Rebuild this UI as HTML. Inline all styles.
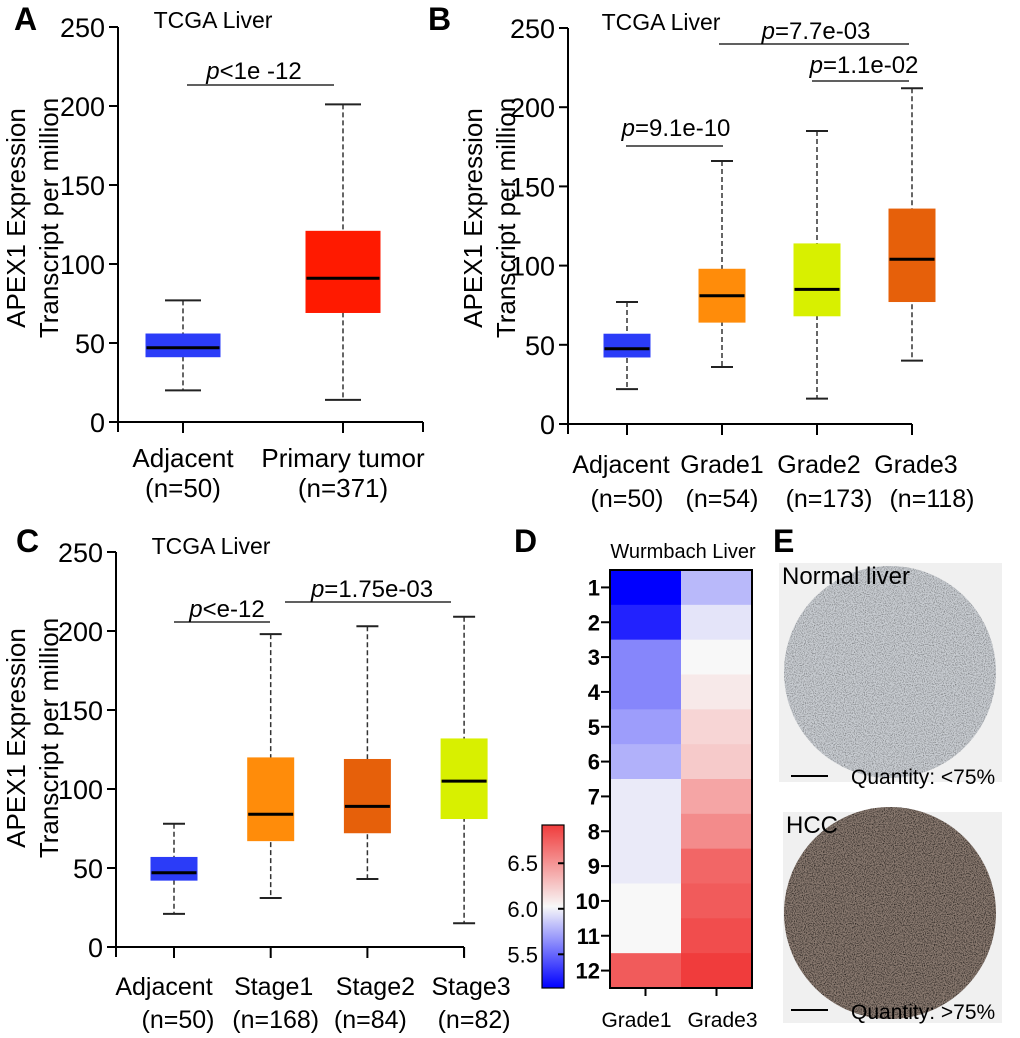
<!DOCTYPE html>
<html><head><meta charset="utf-8"><style>
html,body{margin:0;padding:0;background:#fff;}
svg{display:block;font-family:"Liberation Sans",Arial,sans-serif;}
</style></head><body>
<svg id="fig" width="1020" height="1038" viewBox="0 0 1020 1038" xmlns="http://www.w3.org/2000/svg">
<defs>
<filter id="speck" x="0" y="0" width="100%" height="100%">
<feTurbulence type="fractalNoise" baseFrequency="0.9" numOctaves="2" seed="3" result="n"/>
<feColorMatrix in="n" type="matrix" values="0 0 0 0 0  0 0 0 0 0  0 0 0 0 0  0 0 0 -2.2 1.25" result="a"/>
<feComposite in="a" in2="SourceGraphic" operator="in"/>
</filter>
<linearGradient id="cbar" x1="0" y1="0" x2="0" y2="1">
<stop offset="0" stop-color="#f03c3c"/>
<stop offset="0.5" stop-color="#f8f8f8"/>
<stop offset="1" stop-color="#0000ff"/>
</linearGradient>
<clipPath id="c1"><circle cx="890" cy="672" r="106"/></clipPath>
<clipPath id="c2"><circle cx="890" cy="913" r="106"/></clipPath>
</defs>
<g id="layer"></g>
<g>
<rect x="779" y="563" width="223" height="219" fill="#f0f0f0"/>
<circle cx="890" cy="672" r="106" fill="#c9cdd2"/>
<rect clip-path="url(#c1)" x="784" y="566" width="212" height="212" fill="#4a4c50" filter="url(#speck)" opacity="0.45"/>
<rect x="783" y="812" width="219" height="211" fill="#f0f0f0"/>
<circle cx="890" cy="913" r="106" fill="#8a7a70"/>
<rect clip-path="url(#c2)" x="784" y="807" width="212" height="212" fill="#3a2a22" filter="url(#speck)" opacity="0.9"/>
<text x="782" y="584" font-size="24">Normal liver</text>
<text x="786" y="833" font-size="24">HCC</text>
<line x1="791" y1="776" x2="828" y2="776" stroke="#000" stroke-width="2"/>
<text x="851" y="784" font-size="21">Quantity: &lt;75%</text>
<line x1="791" y1="1010" x2="828" y2="1010" stroke="#000" stroke-width="2"/>
<text x="851" y="1019" font-size="21">Quantity: &gt;75%</text>
</g>
</svg>
<script>
// ---- Data ----
const catsA=["Adjacent","Primary tumor"], nA=["(n=50)","(n=371)"];
const minA=[20,14], q1A=[41,69], medA=[47,91], q3A=[56,121], maxA=[77,201];
const colA=["#2b3cf8","#ff1a00"];
const catsB=["Adjacent","Grade1","Grade2","Grade3"], nB=["(n=50)","(n=54)","(n=173)","(n=118)"];
const minB=[22,36,16,40], q1B=[42,64,68,77], medB=[47.5,81,85,104], q3B=[57,98,114,136], maxB=[77,166,185,212];
const colB=["#2b3cf8","#ff8c0a","#d8f000","#e6600a"];
const catsC=["Adjacent","Stage1","Stage2","Stage3"], nC=["(n=50)","(n=168)","(n=84)","(n=82)"];
const minC=[21,31,43,15], q1C=[42,67,72,81], medC=[47,84,89,105], q3C=[57,120,119,132], maxC=[78,198,203,209];
const colC=["#2b3cf8","#ff8c0a","#e6600a","#d8f000"];
const yTicks=[0,50,100,150,200,250];
const heatRows=["1","2","3","4","5","6","7","8","9","10","11","12"];
const heatCols=["Grade1","Grade3"];
const heatG1=[5.13,5.25,5.6,5.6,5.68,5.75,5.95,5.95,5.95,6.0,6.0,6.75];
const heatG3=[5.78,5.93,6.0,6.07,6.17,6.22,6.4,6.52,6.7,6.75,6.82,6.9];
const cbTicks=[5.5,6.0,6.5];

const NS="http://www.w3.org/2000/svg";
const root=document.getElementById('layer');
function el(tag,attrs,parent,txt){const e=document.createElementNS(NS,tag);for(const k in attrs)e.setAttribute(k,attrs[k]);if(txt!==undefined)e.textContent=txt;(parent||root).appendChild(e);return e;}

function boxPanel(cfg){
  const g=el('g',{});
  
  
  const y=v=>cfg.y0-(cfg.y0-cfg.y250)*v/250;
  const x=i=>cfg.xFirst+i*cfg.step;
  const ya=el('line',{x1:cfg.ax,y1:y(250),x2:cfg.ax,y2:cfg.y0+10,stroke:'#000','stroke-width':2},g);
  
  
  const xa=el('line',{x1:cfg.ax,y1:cfg.y0,x2:cfg.xEnd,y2:cfg.y0,stroke:'#000','stroke-width':2},g);
  
  
  el('line',{x1:cfg.xEnd,y1:cfg.y0,x2:cfg.xEnd,y2:cfg.y0+10,stroke:'#000','stroke-width':2},g);
  yTicks.forEach(t=>{
    el('line',{x1:cfg.ax-9,y1:y(t),x2:cfg.ax,y2:y(t),stroke:'#000','stroke-width':2},g);
    const tl=el('text',{x:cfg.ax-13,y:y(t)+10,'font-size':27,'text-anchor':'end'},g,String(t));
    
    
  });
  cfg.cats.forEach((c,i)=>{
    const cx=x(i);
    el('line',{x1:cx,y1:cfg.y0,x2:cx,y2:cfg.y0+11,stroke:'#000','stroke-width':2},g);
    const w=el('line',{x1:cx,y1:y(cfg.max[i]),x2:cx,y2:y(cfg.min[i]),stroke:'#333','stroke-width':1.5,'stroke-dasharray':'5,3'},g);
    
    
    [cfg.max[i],cfg.min[i]].forEach(v=>el('line',{x1:cx-cfg.cap/2,y1:y(v),x2:cx+cfg.cap/2,y2:y(v),stroke:'#222','stroke-width':2},g));
    const b=el('rect',{x:cx-cfg.bw/2,y:y(cfg.q3[i]),width:cfg.bw,height:y(cfg.q1[i])-y(cfg.q3[i]),fill:cfg.col[i]},g);
    
    
    const m=el('line',{x1:cx-cfg.bw/2+1,y1:y(cfg.med[i]),x2:cx+cfg.bw/2-1,y2:y(cfg.med[i]),stroke:'#000','stroke-width':3},g);
    
    
    const l1=el('text',{x:cx+(cfg.lx?cfg.lx[i]:0),y:cfg.ly1,'font-size':cfg.fs||26,'text-anchor':'middle'},g,c);
    
    
    const l2=el('text',{x:cx+(cfg.nx?cfg.nx[i]:0),y:cfg.ly2,'font-size':cfg.fs||26,'text-anchor':'middle'},g,cfg.n[i]);
    
    
  });
  const t=el('text',{x:cfg.titleX,y:cfg.titleY,'font-size':23,'text-anchor':'middle'},g,'TCGA Liver');
  
  
  const L=el('text',{x:cfg.letterX,y:cfg.letterY,'font-size':32,'font-weight':'bold'},g,cfg.letter);
  
  
  const yt=el('text',{transform:`translate(${cfg.ytx},${cfg.yty}) rotate(-90)`,'font-size':26,'text-anchor':'middle'},g);
  
  
  el('tspan',{x:0,y:0},yt,'APEX1 Expression');
  el('tspan',{x:0,y:33},yt,'Transcript per million');
  cfg.pv.forEach(p=>{
    const ln=el('line',{x1:p[0],y1:p[2],x2:p[1],y2:p[2],stroke:'#000','stroke-width':1.3},g);
    
    
    const tx=el('text',{x:p[3],y:p[4],'font-size':24,'text-anchor':'middle'},g);
    
    
    el('tspan',{'font-style':'italic'},tx,'p');
    el('tspan',{},tx,p[5]);
  });
}
boxPanel({name:'panel-a',letter:'A',letterX:14,letterY:30,ax:118,y0:422,y250:27,xEnd:423,xFirst:183,step:160,bw:75,cap:36,
  cats:catsA,n:nA,min:minA,q1:q1A,med:medA,q3:q3A,max:maxA,col:colA,ly1:467,ly2:497,titleX:213,titleY:28,ytx:25,yty:218,
  pv:[[187,334,85,254,79,'<1e -12']]});
boxPanel({name:'panel-b',letter:'B',letterX:428,letterY:30,ax:568,y0:424,y250:28,xEnd:912,xFirst:627,step:95,bw:47,cap:22,fs:25,
  cats:catsB,n:nB,min:minB,q1:q1B,med:medB,q3:q3B,max:maxB,col:colB,ly1:473,ly2:507,titleX:661,titleY:30,ytx:482,yty:218,
  nx:[0,0,12,20],lx:[-6,0,2,4],
  pv:[[626,723,146,676,136,'=9.1e-10'],[719,909,44,816,39,'=7.7e-03'],[812,909,81,864,73,'=1.1e-02']]});
boxPanel({name:'panel-c',letter:'C',letterX:16,letterY:552,ax:116,y0:947,y250:552,xEnd:464,xFirst:174,step:96.7,bw:47,cap:22,fs:25,
  cats:catsC,n:nC,min:minC,q1:q1C,med:medC,q3:q3C,max:maxC,col:colC,ly1:995,ly2:1028,titleX:211,titleY:554,ytx:25,yty:738,
  nx:[4,5,3,10],lx:[-10,3,8,7],
  pv:[[174,270,622,227,617,'<e-12'],[285,451,602,372,597,'=1.75e-03']]});

// ---- Heatmap D ----
const hx0=610,hx1=752,hy0=570,hy1=988;
const colW=(hx1-hx0)/heatCols.length, rowH=(hy1-hy0)/heatRows.length;
function heatColor(v){
  const w=[248,248,248];let c;
  if(v>=6){const t=Math.min(1,(v-6)/0.92);c=[w[0]+(240-w[0])*t,w[1]+(56-w[1])*t,w[2]+(56-w[2])*t];}
  else{const t=Math.min(1,(6-v)/0.87);c=[w[0]*(1-t),w[1]*(1-t),w[2]+(255-w[2])*t];}
  return `rgb(${c.map(Math.round).join(',')})`;
}
const hg=el('g',{});


[heatG1,heatG3].forEach((arr,ci)=>{
  arr.forEach((v,ri)=>{
    const r=el('rect',{x:hx0+ci*colW,y:hy0+ri*rowH,width:colW+0.5,height:rowH+0.5,fill:heatColor(v)},hg);
    
    
  });
});
el('rect',{x:hx0,y:hy0,width:hx1-hx0,height:hy1-hy0,fill:'none',stroke:'#000','stroke-width':2},hg);
heatRows.forEach((r,ri)=>{
  const cy=hy0+(ri+0.5)*rowH;
  el('line',{x1:hx0-9,y1:cy,x2:hx0,y2:cy,stroke:'#000','stroke-width':2},hg);
  const t=el('text',{x:hx0-10,y:cy+8,'font-size':22,'font-weight':'bold','text-anchor':'end'},hg,r);
  
  
});
heatCols.forEach((c,ci)=>{
  const cx=hx0+(ci+0.5)*colW;
  el('line',{x1:cx,y1:hy1,x2:cx,y2:hy1+8,stroke:'#000','stroke-width':2},hg);
  const t=el('text',{x:cx+(ci?6:-9),y:1027,'font-size':21,'text-anchor':'middle'},hg,c);
  
  
});
const ht=el('text',{x:683,y:558,'font-size':20,'text-anchor':'middle'},hg,'Wurmbach Liver');


const dl=el('text',{x:514,y:552,'font-size':32,'font-weight':'bold'},hg,'D');


const el2=el('text',{x:773,y:552,'font-size':32,'font-weight':'bold'},hg,'E');


const cbx=542,cbw=22,cby0=825,cby1=988,cbMax=6.92,cbMin=5.13;
const cbY=v=>cby0+(cbMax-v)/(cbMax-cbMin)*(cby1-cby0);
const cb=el('rect',{x:cbx,y:cby0,width:cbw,height:cby1-cby0,fill:'url(#cbar)',stroke:'#000','stroke-width':1.2},hg);


cbTicks.forEach(v=>{
  el('line',{x1:cbx+cbw-6,y1:cbY(v),x2:cbx+cbw,y2:cbY(v),stroke:'#000','stroke-width':2},hg);
  const t=el('text',{x:cbx-4,y:cbY(v)+8,'font-size':22,'text-anchor':'end'},hg,v.toFixed(1));
  
  
});
</script>
</body></html>
